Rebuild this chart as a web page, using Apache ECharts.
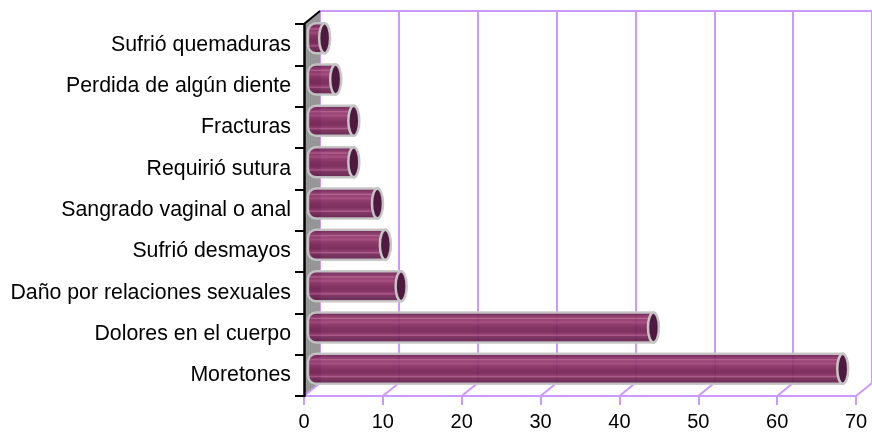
<!DOCTYPE html>
<html lang="es">
<head>
    <meta charset="utf-8">
    <title>Lesiones</title>
    <script type="text/javascript" src="https://cdn.jsdelivr.net/npm/echarts@6/dist/echarts.min.js"></script>
    <style>
        html, body { margin: 0; padding: 0; background: #fff; }
    </style>
</head>
<body>
<div id="main" style="width: 872px;height:432px;"></div>

<script>
    // de abajo hacia arriba, igual que el eje
    var categories = ['Moretones', 'Dolores en el cuerpo', 'Daño por relaciones sexuales', 'Sufrió desmayos',
        'Sangrado vaginal o anal', 'Requirió sutura', 'Fracturas', 'Perdida de algún diente', 'Sufrió quemaduras'];
    var values = [68, 44, 12, 10, 9, 6, 6, 3.7, 2.3];
    var xTicks = [0, 10, 20, 30, 40, 50, 60, 70];

    var depthX = 16, depthY = 13;
    var purple = '#cc99ff';

    var bandStops = [
        [0, '#64204c'], [0.1, '#742658'], [0.18, '#8c3468'], [0.22, '#b05888'], [0.26, '#8c3468'],
        [0.34, '#a04478'], [0.4, '#883064'], [0.5, '#7c2658'], [0.62, '#742254'], [0.7, '#883064'],
        [0.74, '#a85084'], [0.78, '#762858'], [0.9, '#64204c'], [1, '#561a42']
    ].map(function (s) { return { offset: s[0], color: s[1] }; });

    function renderBar(params, api) {
        var v = api.value(0);
        var c = api.coord([v, api.value(1)]);
        var zero = api.coord([0, api.value(1)]);
        var cy = c[1] - depthY / 2;
        var h = 30, rx = 5.5;
        var left = zero[0] + 4;
        var capX = c[0] + depthX / 2 - rx;
        return {
            type: 'group',
            children: [{
                type: 'rect',
                shape: { x: left, y: cy - h / 2, width: capX - left, height: h, r: [8, 0, 0, 8] },
                style: {
                    fill: new echarts.graphic.LinearGradient(0, 0, 0, 1, bandStops),
                    stroke: '#c6c6c6', lineWidth: 2.5, opacity: 0.93
                }
            }, {
                type: 'ellipse',
                shape: { cx: capX, cy: cy, rx: rx, ry: h / 2 },
                style: { fill: '#4f1a40', stroke: '#c6c6c6', lineWidth: 2.5 }
            }]
        };
    }

    // pared izquierda gris
    function renderWall(params, api) {
        var g = params.coordSys;
        var x = g.x, top = g.y, bottom = g.y + g.height;
        return {
            type: 'group',
            children: [{
                type: 'polygon',
                shape: { points: [[x, top], [x + depthX, top - depthY], [x + depthX, bottom - depthY], [x, bottom]] },
                style: { fill: '#969696' }
            }, {
                type: 'line',
                shape: { x1: x, y1: top, x2: x + depthX, y2: top - depthY },
                style: { stroke: '#000', lineWidth: 2 }
            }]
        };
    }

    // diagonales del piso, una por cada marca
    function renderFloor(params, api) {
        var g = params.coordSys;
        var p = api.coord([api.value(0), 0]);
        var bottom = g.y + g.height;
        return {
            type: 'line',
            shape: { x1: p[0], y1: bottom, x2: p[0] + depthX, y2: bottom - depthY },
            style: { stroke: purple, lineWidth: 2 }
        };
    }

    var myChart = echarts.init(document.getElementById('main'), null, { renderer: 'canvas' });
    var textFont = { fontFamily: '"Liberation Sans", Arial, sans-serif', color: '#000' };

    var option = {
        animation: false,
        grid: [
            { left: 304, right: 16, top: 24, bottom: 36 },
            { left: 320, right: 0, top: 11, bottom: 49, show: false }
        ],
        xAxis: [{
            type: 'value', gridIndex: 0, min: 0, max: 70, interval: 10, z: 4,
            axisLine: { show: true, lineStyle: { color: purple, width: 2 } },
            axisTick: { show: true, length: 9, lineStyle: { color: purple, width: 2 } },
            axisLabel: Object.assign({ margin: 16, fontSize: 20 }, textFont),
            splitLine: { show: false }
        }, {
            type: 'value', gridIndex: 1, min: 0, max: 70, interval: 10, position: 'top', z: 0,
            axisLine: { show: true, onZero: false, lineStyle: { color: purple, width: 2 } },
            axisTick: { show: false },
            axisLabel: { show: false },
            splitLine: { show: true, lineStyle: { color: purple, width: 2 } }
        }],
        yAxis: [{
            type: 'category', gridIndex: 0, data: categories, z: 6,
            axisLine: { show: true, lineStyle: { color: '#000', width: 2.5 } },
            axisTick: { show: true, length: 9, alignWithLabel: false, lineStyle: { color: '#000', width: 2 } },
            axisLabel: Object.assign({ margin: 13, interval: 0, fontSize: 21.3 }, textFont)
        }, {
            type: 'category', gridIndex: 1, data: categories,
            axisLine: { show: false }, axisTick: { show: false }, axisLabel: { show: false }
        }],
        series: [{
            type: 'custom', xAxisIndex: 0, yAxisIndex: 0, z: 2, silent: true,
            renderItem: renderWall, data: [[0, 0]], clip: false
        }, {
            type: 'custom', xAxisIndex: 0, yAxisIndex: 0, z: 3, silent: true,
            renderItem: renderFloor, data: xTicks.map(function (t) { return [t]; }), clip: false
        }, {
            type: 'custom', xAxisIndex: 0, yAxisIndex: 0, z: 10, silent: true,
            renderItem: renderBar, clip: false,
            encode: { x: 0, y: 1 },
            data: values.map(function (v, i) { return [v, i]; })
        }]
    };
    myChart.setOption(option);
</script>
</body>
</html>
